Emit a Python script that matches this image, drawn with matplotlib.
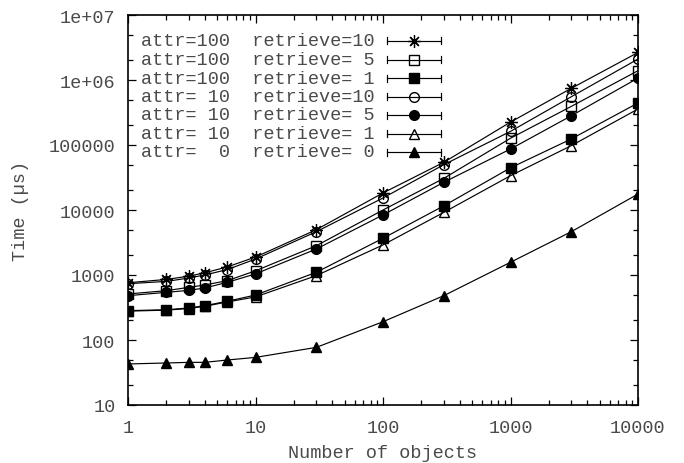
import matplotlib
matplotlib.use("Agg")
import matplotlib.pyplot as plt
from matplotlib.ticker import LogLocator, NullFormatter, FixedLocator, FixedFormatter
from matplotlib.lines import Line2D

# ---- data ----
n_objects = [1, 2, 3, 4, 6, 10, 30, 100, 300, 1000, 3000, 10000]

labels = [
    "attr=100  retrieve=10",
    "attr=100  retrieve= 5",
    "attr=100  retrieve= 1",
    "attr= 10  retrieve=10",
    "attr= 10  retrieve= 5",
    "attr= 10  retrieve= 1",
    "attr=  0  retrieve= 0",
]

a100_r10 = [760, 855, 960, 1080, 1330, 1890, 4980, 18300, 54200, 225000, 745000, 2650000]
a100_r5 = [511, 574, 646, 702, 818, 1160, 2820, 10000, 30700, 127000, 393000, 1390000]
a100_r1 = [283, 292, 311, 337, 394, 492, 1100, 3670, 11600, 44500, 124000, 443000]
a10_r10 = [735, 797, 899, 1000, 1210, 1760, 4640, 15300, 49800, 162000, 553000, 2100000]
a10_r5 = [481, 541, 581, 631, 771, 1040, 2510, 8400, 26700, 86700, 282000, 1070000]
a10_r1 = [278, 288, 305, 330, 385, 460, 978, 2900, 9200, 33700, 97700, 358000]
a0_r0 = [42.8, 44.3, 45.3, 45.3, 49.2, 54, 77, 191, 481, 1570, 4640, 17600]

series = [a100_r10, a100_r5, a100_r1, a10_r10, a10_r5, a10_r1, a0_r0]

x_ticks = [1, 10, 100, 1000, 10000]
x_ticklabels = ["1", "10", "100", "1000", "10000"]
y_ticks = [10, 100, 1000, 10000, 100000, 1e6, 1e7]
y_ticklabels = ["10", "100", "1000", "10000", "100000", "1e+06", "1e+07"]

# ---- styles ----
styles = [
    dict(marker=(8, 2, 0), ms=9, mfc="black", mew=0.9),
    dict(marker="s", ms=7, mfc="none", mew=1.0),
    dict(marker="s", ms=7.5, mfc="black", mew=1.0),
    dict(marker="o", ms=7, mfc="none", mew=1.0),
    dict(marker="o", ms=7, mfc="black", mew=1.0),
    dict(marker="^", ms=7, mfc="none", mew=1.0),
    dict(marker="^", ms=7, mfc="black", mew=1.0),
]

FONT = "Liberation Mono"
TXT = "#4a4a4a"
plt.rcParams["font.family"] = [FONT, "DejaVu Sans"]

W, H = 684, 464
fig = plt.figure(figsize=(W / 100, H / 100), dpi=100)
L, R, T, B = 128, 638, 16, 406
ax = fig.add_axes([L / W, 1 - B / H, (R - L) / W, (B - T) / H])

for ys, st in zip(series, styles):
    ax.plot(n_objects, ys, color="black", lw=0.85, mec="black", **st)

ax.set_xscale("log")
ax.set_yscale("log")
ax.set_xlim(1, 10000)
ax.set_ylim(10, 1e7)

ax.xaxis.set_major_locator(FixedLocator(x_ticks))
ax.xaxis.set_major_formatter(FixedFormatter(x_ticklabels))
ax.yaxis.set_major_locator(FixedLocator(y_ticks))
ax.yaxis.set_major_formatter(FixedFormatter(y_ticklabels))
ax.xaxis.set_minor_locator(LogLocator(base=10, subs=range(2, 10), numticks=20))
ax.xaxis.set_minor_formatter(NullFormatter())
ax.yaxis.set_minor_locator(LogLocator(base=10, subs=[2, 5], numticks=20))
ax.yaxis.set_minor_formatter(NullFormatter())

ax.tick_params(which="both", direction="in", top=True, right=True, color="black", width=0.9)
ax.tick_params(which="major", length=6)
ax.tick_params(which="minor", length=3.5)
ax.tick_params(axis="y", which="major", pad=9, labelsize=13.3, labelcolor=TXT)
ax.tick_params(axis="x", which="major", pad=10, labelsize=13.3, labelcolor=TXT)
for sp in ax.spines.values():
    sp.set_linewidth(1.2)
    sp.set_color("black")

fig.text(383 / W, 1 - 454 / H, "Number of objects", ha="center", va="center",
         fontsize=13.3, color=TXT)
fig.text(21 / W, 1 - 211 / H, "Time (\u00b5s)", ha="center", va="center",
         rotation=90, fontsize=13.3, color=TXT)

# ---- legend (gnuplot style) ----
rows_y = [41.7, 60.5, 79, 97.5, 116, 134.5, 153]
text_right = 375
seg_x0, seg_x1, mark_x = 387, 441, 414
for lab, st, yy in zip(labels, styles, rows_y):
    fy = 1 - yy / H
    fig.text(text_right / W, fy, lab, ha="right", va="center", fontsize=13.3, color=TXT)
    fig.add_artist(Line2D([seg_x0 / W, seg_x1 / W], [fy, fy], color="black", lw=0.85,
                          transform=fig.transFigure))
    for xe in (seg_x0, seg_x1):
        fig.add_artist(Line2D([xe / W, xe / W], [fy - 3.5 / H, fy + 3.5 / H], color="black",
                              lw=0.85, transform=fig.transFigure))
    fig.add_artist(Line2D([mark_x / W], [fy], color="black", lw=0, mec="black",
                          transform=fig.transFigure, **st))

fig.savefig("out.png", dpi=100)
